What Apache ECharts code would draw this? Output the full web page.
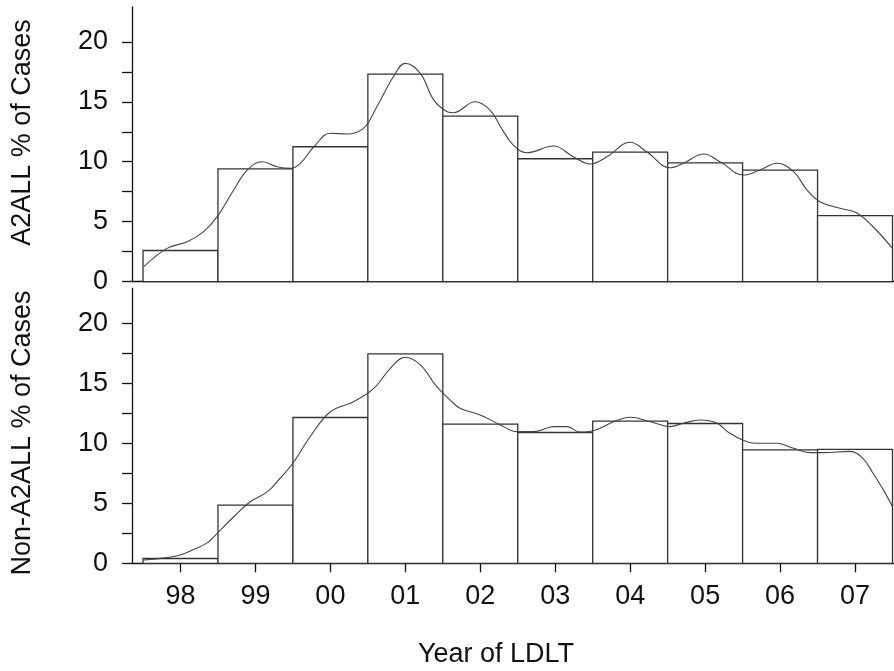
<!DOCTYPE html>
<html>
<head>
<meta charset="utf-8">
<script src="https://cdn.jsdelivr.net/npm/echarts@6/dist/echarts.min.js"></script>
<style>
  html, body { margin: 0; padding: 0; background: #fff; }
  #main { width: 894px; height: 671px; }
</style>
</head>
<body>
<div id="main"></div>
<script>
// year labels, one histogram bin per year
var years = ['98', '99', '00', '01', '02', '03', '04', '05', '06', '07'];
var yearIdx = [0, 1, 2, 3, 4, 5, 6, 7, 8, 9];

// % of cases per year (histogram heights)
var a2allPct = [2.6, 9.4, 11.25, 17.3, 13.8, 10.25, 10.8, 9.9, 9.3, 5.5];
var nonA2allPct = [0.4, 4.85, 12.15, 17.45, 11.6, 10.9, 11.85, 11.65, 9.45, 9.5];

// smoothed density curve (x in year-index units)
var a2allCurveX = [-0.49, -0.18, 0.09, 0.31, 0.49, 0.71, 0.89, 1.09, 1.29, 1.47, 1.6, 1.78, 2.0, 2.22, 2.44,
  2.62, 2.84, 3.0, 3.2, 3.38, 3.56, 3.64, 3.93, 4.13, 4.27, 4.44, 4.62, 4.98, 5.24, 5.47, 5.69, 6.0, 6.22,
  6.53, 6.71, 6.98, 7.2, 7.51, 7.73, 7.96, 8.18, 8.36, 8.53, 8.8, 9.02, 9.24, 9.5];
var a2allCurveY = [1.25, 2.78, 3.33, 4.17, 5.42, 7.64, 9.31, 10.0, 9.58, 9.45, 9.87, 11.25, 12.37, 12.31, 12.78,
  14.58, 17.08, 18.2, 17.37, 15.14, 14.17, 14.08, 15.0, 14.31, 12.92, 11.39, 10.75, 11.31, 10.42, 9.81, 10.42, 11.62, 10.83,
  9.5, 9.87, 10.64, 10.0, 8.89, 9.31, 9.87, 9.17, 7.64, 6.67, 6.12, 5.75, 4.58, 2.78];

var nonA2allCurveX = [-0.49, -0.18, 0.0, 0.18, 0.36, 0.49, 0.71, 0.93, 1.16, 1.33, 1.49, 1.73, 2.0, 2.31, 2.58,
  2.8, 3.0, 3.2, 3.42, 3.6, 3.73, 4.0, 4.27, 4.49, 4.71, 4.98, 5.16, 5.33, 5.51, 5.78, 6.0, 6.27, 6.53,
  6.71, 6.93, 7.16, 7.33, 7.56, 7.73, 7.96, 8.18, 8.4, 8.58, 8.93, 9.11, 9.24, 9.38, 9.5];
var nonA2allCurveY = [0.28, 0.47, 0.69, 1.17, 1.72, 2.5, 3.88, 5.13, 5.97, 7.1, 8.25, 10.55, 12.63, 13.47, 14.58,
  16.25, 17.17, 16.53, 14.72, 13.6, 12.92, 12.36, 11.53, 10.97, 10.97, 11.39, 11.39, 10.94, 11.05, 11.8, 12.17, 11.8, 11.39,
  11.67, 11.94, 11.67, 10.83, 10.13, 10.0, 10.0, 9.58, 9.22, 9.22, 9.33, 8.7, 7.5, 6.1, 4.72];

// axis ticks
var yTicks = [0, 2.5, 5, 7.5, 10, 12.5, 15, 17.5, 20];
var yLabels = [0, 5, 10, 15, 20];

var ink = '#111';
var font = '"Liberation Sans", Arial, sans-serif';

function zip(xs, ys) {
  return xs.map(function (x, i) { return [x, ys[i]]; });
}

function histItem(params, api) {
  var lo = api.coord([api.value(0) - 0.5, 0]);
  var hi = api.coord([api.value(0) + 0.5, api.value(1)]);
  return {
    type: 'rect',
    shape: { x: lo[0], y: hi[1], width: hi[0] - lo[0], height: lo[1] - hi[1] },
    style: { fill: '#fff', stroke: '#333', lineWidth: 1.3 }
  };
}

function xAxisOf(grid, withLabels) {
  return {
    type: 'value', gridIndex: grid, min: -0.647, max: 9.52,
    splitLine: { show: false },
    axisLine: { show: true, onZero: false, lineStyle: { color: ink, width: 1.3 } },
    axisTick: { show: withLabels, length: 9, customValues: yearIdx, lineStyle: { color: ink, width: 1.3 } },
    axisLabel: {
      show: withLabels, customValues: yearIdx, margin: 20,
      color: ink, fontSize: 27, fontFamily: font,
      formatter: function (v) { return years[Math.round(v)]; }
    }
  };
}

function yAxisOf(grid) {
  return {
    type: 'value', gridIndex: grid, min: 0, max: 22.9,
    splitLine: { show: false },
    axisLine: { show: true, onZero: false, lineStyle: { color: ink, width: 1.3 } },
    axisTick: { show: true, length: 10, customValues: yTicks, lineStyle: { color: ink, width: 1.3 } },
    axisLabel: { customValues: yLabels, margin: 24, color: ink, fontSize: 27, fontFamily: font }
  };
}

var chart = echarts.init(document.getElementById('main'), null, { renderer: 'canvas' });

var option = {
  backgroundColor: '#fff',
  animation: false,
  grid: [
    { left: 132, width: 762, top: 7, height: 274.7 },
    { left: 132, width: 762, top: 288.5, height: 274.8 }
  ],
  xAxis: [xAxisOf(0, false), xAxisOf(1, true)],
  yAxis: [yAxisOf(0), yAxisOf(1)],
  graphic: [
    {
      type: 'text', x: 23, y: 132.5, rotation: Math.PI / 2,
      style: { text: 'A2ALL % of Cases', fill: ink, font: '27px ' + font, textAlign: 'center', textVerticalAlign: 'middle' }
    },
    {
      type: 'text', x: 23, y: 433, rotation: Math.PI / 2,
      style: { text: 'Non-A2ALL % of Cases', fill: ink, font: '27px ' + font, textAlign: 'center', textVerticalAlign: 'middle' }
    },
    {
      type: 'text', x: 496, y: 655,
      style: { text: 'Year of LDLT', fill: ink, font: '27px ' + font, textAlign: 'center', textVerticalAlign: 'middle' }
    }
  ],
  series: [
    {
      type: 'custom', xAxisIndex: 0, yAxisIndex: 0,
      renderItem: histItem, encode: { x: 0, y: 1 },
      data: zip(yearIdx, a2allPct)
    },
    {
      type: 'line', xAxisIndex: 0, yAxisIndex: 0,
      smooth: 0.4, showSymbol: false,
      lineStyle: { color: '#444', width: 1.1 },
      data: zip(a2allCurveX, a2allCurveY)
    },
    {
      type: 'custom', xAxisIndex: 1, yAxisIndex: 1,
      renderItem: histItem, encode: { x: 0, y: 1 },
      data: zip(yearIdx, nonA2allPct)
    },
    {
      type: 'line', xAxisIndex: 1, yAxisIndex: 1,
      smooth: 0.4, showSymbol: false,
      lineStyle: { color: '#444', width: 1.1 },
      data: zip(nonA2allCurveX, nonA2allCurveY)
    }
  ]
};

chart.setOption(option);
</script>
</body>
</html>
